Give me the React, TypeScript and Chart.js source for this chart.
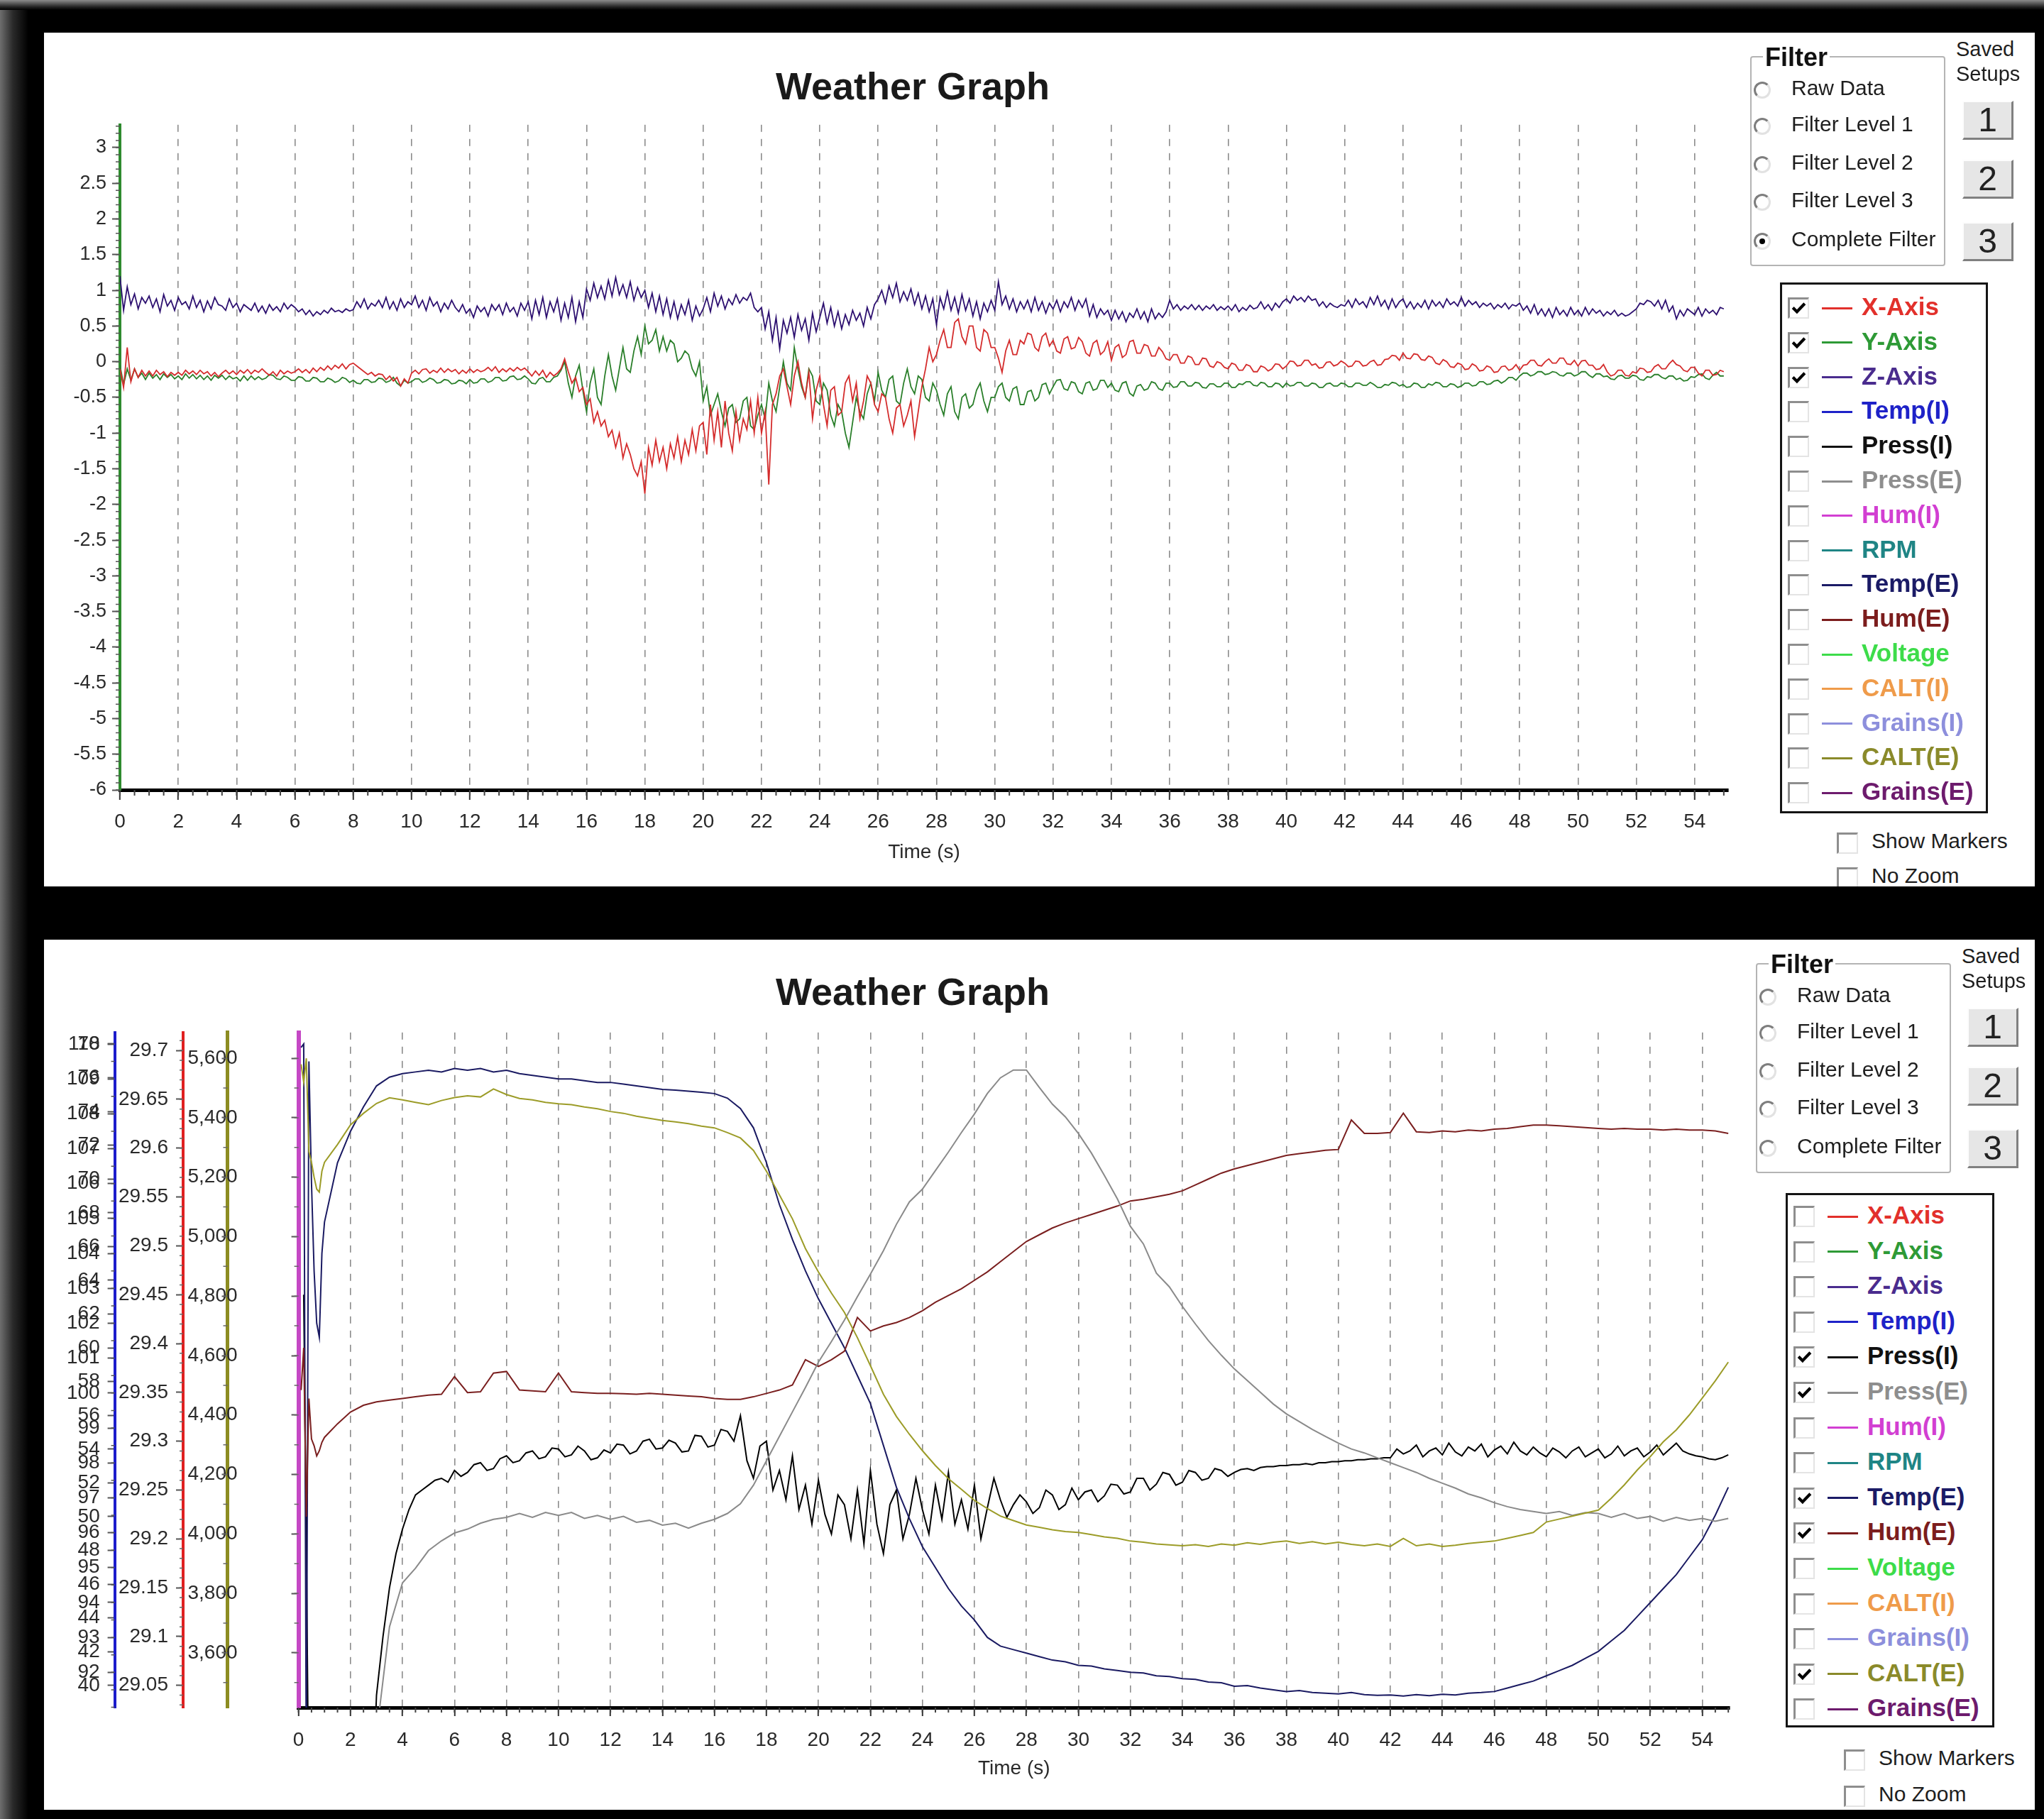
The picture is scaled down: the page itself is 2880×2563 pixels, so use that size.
import React, { useEffect, useRef } from 'react';
import { Chart, registerables } from 'chart.js';

Chart.register(...registerables);

const FONT = "'Liberation Sans', Arial, Helvetica, sans-serif";
Chart.defaults.font.family = FONT;

// ---------------- TOP CHART DATA (accelerometer, g) ----------------
// sample times: every 0.125 s from 0 to 55 s (one row below = one second)
const TOP_TIME: number[] = Array.from({ length: 441 }, (_, i) => i * 0.125);

const X_AXIS = [
  -0.1, -0.36, 0.2, -0.28, -0.1, -0.22, -0.12, -0.2,
  -0.13, -0.2, -0.12, -0.18, -0.14, -0.21, -0.15, -0.19,
  -0.15, -0.19, -0.12, -0.17, -0.13, -0.18, -0.12, -0.17,
  -0.14, -0.2, -0.15, -0.21, -0.16, -0.12, -0.17, -0.13,
  -0.18, -0.12, -0.16, -0.11, -0.17, -0.12, -0.15, -0.1,
  -0.15, -0.19, -0.14, -0.2, -0.12, -0.17, -0.13, -0.16,
  -0.14, -0.1, -0.15, -0.11, -0.16, -0.09, -0.14, -0.08,
  -0.12, -0.06, -0.11, -0.05, -0.09, -0.03, -0.1, -0.04,
  -0.02, -0.06, -0.1, -0.14, -0.18, -0.15, -0.2, -0.17,
  -0.18, -0.25, -0.2, -0.27, -0.22, -0.34, -0.24, -0.3,
  -0.16, -0.12, -0.17, -0.11, -0.1, -0.16, -0.12, -0.15,
  -0.09, -0.15, -0.1, -0.14, -0.11, -0.17, -0.12, -0.16,
  -0.1, -0.15, -0.11, -0.14, -0.12, -0.08, -0.13, -0.07,
  -0.15, -0.1, -0.14, -0.09, -0.13, -0.08, -0.12, -0.09,
  -0.14, -0.2, -0.13, -0.19, -0.12, -0.22, -0.15, -0.2,
  -0.16, -0.1, 0.04, -0.14, -0.3, -0.22, -0.42, -0.36,
  -0.6, -0.52, -0.85, -0.7, -0.9, -0.82, -1.05, -0.96,
  -1.2, -1.0, -1.35, -1.15, -1.3, -1.5, -1.6, -1.4,
  -1.85, -1.2, -1.45, -1.1, -1.4, -1.2, -1.5, -1.15,
  -1.35, -1.05, -1.4, -1.1, -1.3, -0.95, -1.25, -0.9,
  -0.85, -1.3, -0.6, -1.1, -0.7, -1.2, -0.55, -1.0,
  -1.25, -0.7, -1.1, -0.8, -0.95, -0.55, -1.0, -0.5,
  -1.0, -0.7, -1.72, -0.6, -0.45, -0.2, -0.1, -0.35,
  -0.6, -0.2, 0.0, -0.3, -0.5, -0.15, -0.8, -0.4,
  -0.2, -0.6, -0.9, -0.4, -0.35, -0.75, -0.7, -0.3,
  -0.2, -0.55, -0.3, -0.8, -0.55, -0.2, -0.3, -0.6,
  -0.7, -0.45, -0.5, -0.8, -1.0, -0.65, -0.6, -0.9,
  -0.75, -0.55, -1.05, -0.7, -0.35, -0.1, 0.2, 0.0,
  0.1, 0.3, 0.45, 0.2, 0.2, 0.55, 0.6, 0.35,
  0.25, 0.5, 0.5, 0.2, 0.15, 0.45, 0.4, 0.2,
  0.2, 0.05, -0.15, 0.15, 0.3, 0.1, 0.1, 0.3,
  0.25, 0.4, 0.38, 0.2, 0.15, 0.35, 0.4, 0.22,
  0.3, 0.15, 0.12, 0.32, 0.35, 0.18, 0.2, 0.34,
  0.28, 0.12, 0.08, 0.26, 0.3, 0.1, 0.15, 0.28,
  0.02, 0.2, 0.24, 0.06, 0.1, 0.28, 0.3, 0.12,
  0.12, 0.24, 0.22, 0.08, 0.08, 0.2, 0.14, 0.04,
  0.02, 0.1, 0.1, -0.02, -0.02, 0.08, 0.06, -0.04,
  -0.04, 0.05, 0.04, -0.06, -0.08, 0.0, -0.02, -0.08,
  -0.1, -0.02, -0.04, -0.12, -0.12, -0.04, -0.06, -0.14,
  -0.14, -0.06, -0.08, -0.13, -0.1, -0.03, -0.04, -0.1,
  -0.06, 0.01, 0.0, -0.06, -0.05, 0.02, 0.02, -0.05,
  -0.03, -0.09, -0.08, -0.01, 0.0, -0.06, -0.04, 0.01,
  -0.02, -0.07, -0.06, 0.01, 0.0, -0.06, -0.05, 0.0,
  0.02, -0.05, -0.04, 0.03, 0.04, 0.09, 0.08, 0.02,
  0.12, 0.05, 0.04, 0.11, 0.1, 0.03, 0.02, 0.08,
  0.06, -0.02, -0.04, 0.03, 0.0, -0.07, -0.08, -0.02,
  -0.04, -0.11, -0.1, -0.03, -0.06, -0.13, -0.12, -0.06,
  -0.08, -0.15, -0.14, -0.07, -0.06, -0.12, -0.1, -0.04,
  -0.12, -0.05, -0.04, 0.02, 0.02, -0.05, -0.06, 0.0,
  0.04, -0.02, -0.02, 0.05, 0.05, -0.03, -0.04, 0.02,
  -0.06, 0.01, 0.02, -0.05, -0.05, -0.11, -0.1, -0.04,
  -0.14, -0.2, -0.18, -0.12, -0.12, -0.19, -0.2, -0.14,
  -0.16, -0.09, -0.1, -0.15, -0.14, -0.07, -0.04, -0.1,
  -0.1, -0.03, 0.02, -0.04, -0.06, -0.12, -0.14, -0.08,
  -0.08, -0.16, -0.2, -0.12, -0.12, -0.19, -0.18, -0.12,
  -0.14,
];

const Y_AXIS = [
  -0.05, -0.32, -0.1, -0.26, -0.1, -0.22, -0.16, -0.25,
  -0.16, -0.23, -0.18, -0.25, -0.17, -0.22, -0.18, -0.24,
  -0.2, -0.25, -0.17, -0.23, -0.18, -0.24, -0.19, -0.25,
  -0.2, -0.26, -0.19, -0.23, -0.19, -0.25, -0.2, -0.24,
  -0.22, -0.27, -0.2, -0.26, -0.2, -0.25, -0.21, -0.25,
  -0.23, -0.18, -0.19, -0.24, -0.25, -0.2, -0.22, -0.26,
  -0.26, -0.21, -0.22, -0.27, -0.27, -0.22, -0.23, -0.28,
  -0.28, -0.23, -0.25, -0.29, -0.27, -0.22, -0.24, -0.29,
  -0.26, -0.3, -0.31, -0.25, -0.25, -0.29, -0.28, -0.23,
  -0.24, -0.29, -0.27, -0.22, -0.3, -0.34, -0.26, -0.3,
  -0.28, -0.24, -0.24, -0.29, -0.27, -0.23, -0.25, -0.3,
  -0.29, -0.25, -0.26, -0.31, -0.3, -0.26, -0.27, -0.31,
  -0.25, -0.3, -0.29, -0.24, -0.24, -0.29, -0.27, -0.22,
  -0.22, -0.27, -0.26, -0.21, -0.2, -0.25, -0.24, -0.2,
  -0.24, -0.3, -0.31, -0.24, -0.22, -0.28, -0.28, -0.22,
  -0.2, -0.12, 0.0, -0.3, -0.5, -0.2, -0.05, -0.4,
  -0.7, -0.3, -0.1, -0.5, -0.6, -0.2, 0.1, -0.2,
  -0.4, -0.1, 0.2, -0.1, -0.15, 0.15, 0.35, 0.1,
  0.5, 0.25, 0.3, 0.45, 0.15, 0.35, 0.15, 0.3,
  0.25, 0.0, 0.05, 0.15, 0.1, -0.1, -0.2, 0.0,
  -0.55, -0.35, -0.75, -0.6, -0.45, -0.7, -0.9, -0.65,
  -0.6, -0.85, -0.8, -0.55, -0.5, -0.9, -0.95, -0.75,
  -0.6, -0.8, -0.3, -0.55, -0.7, -0.35, 0.0, -0.3,
  -0.4, 0.2, -0.1, -0.35, -0.5, -0.1, -0.2, -0.55,
  -0.6, -0.3, -0.4, -0.75, -0.9, -0.6, -0.7, -1.0,
  -1.2, -0.85, -0.5, -0.7, -0.8, -0.45, -0.3, -0.55,
  -0.15, -0.4, -0.5, -0.25, -0.2, -0.55, -0.6, -0.3,
  -0.1, -0.35, -0.45, -0.2, -0.25, -0.5, -0.55, -0.3,
  -0.4, -0.6, -0.75, -0.45, -0.35, -0.7, -0.8, -0.5,
  -0.45, -0.65, -0.6, -0.4, -0.3, -0.55, -0.7, -0.5,
  -0.5, -0.35, -0.3, -0.5, -0.55, -0.38, -0.35, -0.6,
  -0.6, -0.42, -0.4, -0.55, -0.5, -0.32, -0.3, -0.45,
  -0.35, -0.26, -0.25, -0.38, -0.4, -0.28, -0.3, -0.42,
  -0.45, -0.3, -0.28, -0.4, -0.38, -0.26, -0.26, -0.36,
  -0.3, -0.4, -0.42, -0.3, -0.28, -0.44, -0.48, -0.34,
  -0.32, -0.4, -0.38, -0.28, -0.3, -0.38, -0.4, -0.3,
  -0.3, -0.36, -0.35, -0.28, -0.28, -0.34, -0.34, -0.29,
  -0.3, -0.36, -0.37, -0.31, -0.31, -0.35, -0.35, -0.3,
  -0.3, -0.36, -0.36, -0.31, -0.32, -0.28, -0.28, -0.33,
  -0.34, -0.29, -0.3, -0.35, -0.35, -0.3, -0.31, -0.36,
  -0.3, -0.34, -0.33, -0.29, -0.29, -0.34, -0.34, -0.3,
  -0.31, -0.36, -0.36, -0.31, -0.3, -0.34, -0.34, -0.3,
  -0.31, -0.35, -0.35, -0.3, -0.3, -0.33, -0.33, -0.29,
  -0.32, -0.36, -0.36, -0.32, -0.33, -0.29, -0.3, -0.34,
  -0.32, -0.36, -0.35, -0.3, -0.31, -0.36, -0.36, -0.31,
  -0.33, -0.29, -0.3, -0.35, -0.35, -0.31, -0.32, -0.36,
  -0.34, -0.3, -0.3, -0.34, -0.33, -0.28, -0.28, -0.32,
  -0.31, -0.27, -0.26, -0.3, -0.27, -0.22, -0.22, -0.26,
  -0.2, -0.16, -0.16, -0.2, -0.18, -0.14, -0.14, -0.18,
  -0.17, -0.14, -0.15, -0.19, -0.2, -0.16, -0.16, -0.2,
  -0.18, -0.14, -0.14, -0.19, -0.22, -0.17, -0.17, -0.21,
  -0.2, -0.24, -0.25, -0.2, -0.19, -0.23, -0.23, -0.19,
  -0.2, -0.25, -0.26, -0.21, -0.22, -0.18, -0.18, -0.22,
  -0.24, -0.2, -0.2, -0.25, -0.23, -0.27, -0.26, -0.21,
  -0.22, -0.18, -0.17, -0.23, -0.25, -0.19, -0.15, -0.2,
  -0.2,
];

const Z_AXIS = [
  1.2, 0.72, 1.05, 0.8, 0.95, 0.74, 0.9, 0.82,
  0.92, 0.76, 0.88, 0.7, 0.94, 0.78, 0.86, 0.72,
  0.9, 0.8, 0.84, 0.74, 0.92, 0.76, 0.86, 0.7,
  0.85, 0.74, 0.9, 0.8, 0.78, 0.72, 0.88, 0.76,
  0.82, 0.7, 0.8, 0.76, 0.72, 0.82, 0.7, 0.78,
  0.68, 0.8, 0.72, 0.77, 0.7, 0.82, 0.74, 0.8,
  0.76, 0.7, 0.74, 0.66, 0.72, 0.64, 0.7, 0.66,
  0.72, 0.68, 0.75, 0.7, 0.72, 0.69, 0.74, 0.71,
  0.73, 0.84, 0.76, 0.88, 0.74, 0.82, 0.78, 0.86,
  0.76, 0.9, 0.74, 0.84, 0.72, 0.88, 0.76, 0.84,
  0.8, 0.92, 0.76, 0.86, 0.72, 0.9, 0.78, 0.84,
  0.7, 0.82, 0.74, 0.86, 0.76, 0.7, 0.8, 0.68,
  0.74, 0.62, 0.78, 0.7, 0.76, 0.64, 0.8, 0.72,
  0.8, 0.66, 0.82, 0.7, 0.76, 0.64, 0.82, 0.72,
  0.84, 0.6, 0.86, 0.66, 0.9, 0.62, 0.84, 0.7,
  0.88, 0.58, 0.82, 0.62, 0.9, 0.56, 0.84, 0.62,
  1.02, 0.86, 1.1, 0.9, 1.06, 0.88, 1.14, 0.92,
  1.18, 0.94, 1.08, 0.9, 1.12, 0.86, 1.04, 0.9,
  1.0, 0.76, 0.96, 0.7, 0.92, 0.66, 0.88, 0.62,
  0.84, 0.6, 0.8, 0.66, 0.86, 0.58, 0.78, 0.64,
  0.74, 0.9, 0.7, 0.96, 0.78, 0.92, 0.74, 0.88,
  0.8, 0.94, 0.82, 0.9, 0.86, 0.96, 0.76, 0.7,
  0.76, 0.46, 0.7, 0.3, 0.62, 0.18, 0.58, 0.4,
  0.62, 0.34, 0.66, 0.44, 0.6, 0.3, 0.68, 0.42,
  0.62, 0.82, 0.54, 0.76, 0.5, 0.7, 0.46, 0.66,
  0.52, 0.72, 0.58, 0.68, 0.5, 0.76, 0.6, 0.8,
  0.88, 1.0, 0.82, 1.06, 0.9, 1.1, 0.84, 0.98,
  0.86, 1.02, 0.8, 0.96, 0.74, 0.92, 0.7, 0.88,
  0.52, 0.9, 0.74, 0.98, 0.72, 0.9, 0.68, 0.94,
  0.72, 0.88, 0.64, 0.84, 0.6, 0.82, 0.7, 0.86,
  0.72, 1.12, 0.8, 0.92, 0.74, 0.88, 0.7, 0.84,
  0.74, 0.86, 0.7, 0.9, 0.72, 0.84, 0.68, 0.82,
  0.74, 0.86, 0.7, 0.84, 0.76, 0.9, 0.72, 0.86,
  0.76, 0.88, 0.64, 0.8, 0.62, 0.74, 0.66, 0.72,
  0.58, 0.72, 0.6, 0.7, 0.56, 0.68, 0.62, 0.74,
  0.6, 0.7, 0.56, 0.74, 0.6, 0.68, 0.62, 0.7,
  0.86, 0.74, 0.8, 0.72, 0.78, 0.74, 0.8, 0.73,
  0.79, 0.72, 0.78, 0.74, 0.8, 0.72, 0.77, 0.73,
  0.78, 0.72, 0.8, 0.7, 0.76, 0.72, 0.79, 0.74,
  0.76, 0.84, 0.74, 0.8, 0.72, 0.82, 0.76, 0.84,
  0.88, 0.82, 0.92, 0.86, 0.9, 0.84, 0.92, 0.86,
  0.88, 0.78, 0.84, 0.76, 0.82, 0.78, 0.76, 0.8,
  0.78, 0.86, 0.76, 0.88, 0.8, 0.84, 0.76, 0.9,
  0.8, 0.92, 0.78, 0.86, 0.74, 0.88, 0.76, 0.84,
  0.88, 0.76, 0.84, 0.74, 0.82, 0.76, 0.86, 0.74,
  0.86, 0.78, 0.84, 0.76, 0.88, 0.8, 0.84, 0.78,
  0.9, 0.78, 0.86, 0.8, 0.84, 0.76, 0.82, 0.78,
  0.82, 0.74, 0.8, 0.76, 0.82, 0.74, 0.8, 0.78,
  0.82, 0.72, 0.78, 0.68, 0.8, 0.66, 0.74, 0.64,
  0.74, 0.62, 0.76, 0.66, 0.72, 0.64, 0.76, 0.66,
  0.72, 0.64, 0.76, 0.66, 0.74, 0.68, 0.72, 0.64,
  0.7, 0.66, 0.72, 0.64, 0.68, 0.64, 0.66, 0.7,
  0.74, 0.82, 0.8, 0.86, 0.84, 0.78, 0.86, 0.74,
  0.86, 0.7, 0.78, 0.6, 0.72, 0.64, 0.74, 0.7,
  0.66, 0.76, 0.64, 0.74, 0.68, 0.72, 0.66, 0.76,
  0.74,
];

// ---------------- BOTTOM CHART DATA (weather) ----------------
// sample times: 0..1 s every 0.1 s, then every 0.5 s to 55 s
const BOTTOM_TIME: number[] = [0, 0.1, 0.2, 0.3, 0.4, 0.5, 0.6, 0.7, 0.8, 0.9, 1.0].concat(
  Array.from({ length: 108 }, (_, i) => 1.5 + i * 0.5)
);
// Press(I) is logged more densely: start-up glitch, then every 0.25 s from 3 s
const PRESS_I_TIME: number[] = [0.2, 0.3, 0.4, 2.8].concat(Array.from({ length: 209 }, (_, i) => 3 + i * 0.25));

const TEMP_E = [
  null, 109.9, 110.0, 89, 109.5, 106, 103.5, 102, 101.6, 104, 104.9,
  106.6, 107.5, 108.2, 108.8, 109.05, 109.15, 109.2, 109.25, 109.2, 109.3,
  109.25, 109.3, 109.2, 109.25, 109.15, 109.1, 109.05, 109.0, 109.0, 108.95,
  108.9, 108.9, 108.85, 108.8, 108.75, 108.7, 108.68, 108.65, 108.62, 108.58,
  108.45, 108.15, 107.6, 106.6, 105.4, 104.4, 103.5, 102.7, 102.0, 101.3,
  100.5, 99.7, 98.5, 97.3, 96.4, 95.6, 95.0, 94.4, 93.9, 93.5,
  93.0, 92.75, 92.65, 92.55, 92.45, 92.35, 92.3, 92.2, 92.18, 92.1,
  92.05, 92.0, 91.98, 91.9, 91.88, 91.82, 91.8, 91.72, 91.7, 91.6,
  91.62, 91.55, 91.5, 91.45, 91.48, 91.42, 91.4, 91.38, 91.42, 91.36,
  91.34, 91.35, 91.32, 91.36, 91.33, 91.37, 91.35, 91.4, 91.42, 91.45,
  91.55, 91.65, 91.75, 91.9, 92.05, 92.2, 92.4, 92.6, 92.9, 93.2,
  93.6, 94.0, 94.4, 94.8, 95.3, 95.8, 96.5, 97.3,
];

const PRESS_I = [
  29.45, 29.2, 28.9, 28.9,
  29.04, 29.1, 29.15, 29.185,
  29.21, 29.23, 29.245, 29.25,
  29.255, 29.26, 29.262, 29.258,
  29.27, 29.264, 29.268, 29.276,
  29.278, 29.27, 29.272, 29.282,
  29.285, 29.278, 29.28, 29.288,
  29.29, 29.282, 29.284, 29.293,
  29.292, 29.284, 29.286, 29.295,
  29.29, 29.281, 29.283, 29.291,
  29.288, 29.297, 29.296, 29.287,
  29.29, 29.3, 29.302, 29.292,
  29.293, 29.301, 29.298, 29.289,
  29.29, 29.306, 29.305, 29.294,
  29.296, 29.312, 29.31, 29.3,
  29.326, 29.28, 29.262, 29.295,
  29.3, 29.25, 29.27, 29.24,
  29.285, 29.23, 29.255, 29.215,
  29.26, 29.225, 29.205, 29.245,
  29.235, 29.2, 29.25, 29.195,
  29.27, 29.215, 29.185, 29.235,
  29.25, 29.2, 29.225, 29.262,
  29.23, 29.205, 29.255, 29.22,
  29.268, 29.215, 29.24, 29.21,
  29.255, 29.2, 29.232, 29.262,
  29.24, 29.222, 29.235, 29.245,
  29.238, 29.226, 29.232, 29.25,
  29.245, 29.23, 29.235, 29.252,
  29.24, 29.248, 29.25, 29.238,
  29.244, 29.256, 29.255, 29.246,
  29.248, 29.262, 29.262, 29.25,
  29.256, 29.268, 29.266, 29.255,
  29.258, 29.27, 29.268, 29.26,
  29.262, 29.272, 29.27, 29.264,
  29.268, 29.271, 29.272, 29.27,
  29.273, 29.274, 29.274, 29.275,
  29.275, 29.276, 29.276, 29.277,
  29.276, 29.278, 29.278, 29.279,
  29.279, 29.28, 29.28, 29.281,
  29.281, 29.282, 29.282, 29.283,
  29.283, 29.292, 29.287, 29.29,
  29.296, 29.284, 29.29, 29.293,
  29.286, 29.298, 29.289, 29.285,
  29.294, 29.29, 29.297, 29.284,
  29.291, 29.295, 29.287, 29.299,
  29.29, 29.286, 29.294, 29.288,
  29.284, 29.293, 29.289, 29.283,
  29.29, 29.294, 29.284, 29.288,
  29.292, 29.283, 29.287, 29.295,
  29.285, 29.29, 29.293, 29.284,
  29.289, 29.296, 29.286, 29.292,
  29.298, 29.29, 29.287, 29.285,
  29.284, 29.282, 29.281, 29.283,
  29.286,
];

const PRESS_E = [
  null, null, null, null, 28.9, 28.9, 28.9, 28.9, 28.9, 28.9, 28.9,
  28.9, 28.9, 28.9, 29.0, 29.11, 29.155, 29.17, 29.188, 29.198, 29.206,
  29.21, 29.216, 29.22, 29.222, 29.226, 29.222, 29.227, 29.224, 29.227, 29.221,
  29.224, 29.22, 29.223, 29.217, 29.219, 29.214, 29.216, 29.211, 29.216, 29.22,
  29.226, 29.236, 29.255, 29.28, 29.305, 29.33, 29.355, 29.381, 29.402, 29.424,
  29.448, 29.471, 29.495, 29.522, 29.545, 29.558, 29.577, 29.596, 29.616, 29.635,
  29.656, 29.672, 29.68, 29.68, 29.662, 29.645, 29.632, 29.615, 29.595, 29.572,
  29.548, 29.52, 29.502, 29.472, 29.458, 29.438, 29.42, 29.403, 29.388, 29.374,
  29.362, 29.35, 29.338, 29.328, 29.32, 29.312, 29.305, 29.298, 29.292, 29.288,
  29.283, 29.278, 29.273, 29.268, 29.262, 29.257, 29.252, 29.246, 29.242, 29.237,
  29.233, 29.23, 29.228, 29.226, 29.228, 29.224, 29.227, 29.226, 29.222, 29.226,
  29.221, 29.223, 29.218, 29.222, 29.219, 29.221, 29.218, 29.221,
];

const HUM_E = [
  null, 57.5, 60, 50, 57, 54.6, 54.2, 53.6, 53.9, 54.4, 54.7,
  55.5, 56.2, 56.6, 56.8, 56.9, 57.0, 57.1, 57.2, 57.25, 58.3,
  57.35, 57.4, 58.5, 58.6, 57.5, 57.45, 57.4, 58.5, 57.4, 57.35,
  57.3, 57.3, 57.28, 57.25, 57.3, 57.25, 57.2, 57.15, 57.1, 57.0,
  56.95, 56.95, 57.1, 57.3, 57.5, 57.8, 59.3, 58.9, 59.3, 59.8,
  61.8, 61.0, 61.3, 61.5, 61.8, 62.2, 62.7, 63.1, 63.5, 64.0,
  64.5, 65.1, 65.7, 66.3, 66.7, 67.1, 67.4, 67.65, 67.9, 68.15,
  68.4, 68.7, 68.8, 68.95, 69.1, 69.3, 69.65, 70.0, 70.35, 70.6,
  70.8, 71.0, 71.2, 71.4, 71.5, 71.6, 71.7, 71.75, 73.5, 72.7,
  72.7, 72.75, 73.9, 72.8, 72.75, 72.85, 72.8, 72.9, 72.85, 72.95,
  73.0, 73.1, 73.2, 73.2, 73.15, 73.1, 73.05, 73.0, 72.95, 73.0,
  72.95, 72.95, 72.9, 72.95, 72.9, 72.9, 72.85, 72.7,
];

const CALT_E = [
  null, 5580, 5520, 5600, 5286, 5250, 5200, 5160, 5150, 5220, 5250,
  5310, 5376, 5415, 5448, 5467, 5460, 5452, 5444, 5458, 5468,
  5474, 5470, 5497, 5478, 5465, 5460, 5452, 5447, 5444, 5436,
  5430, 5421, 5415, 5405, 5398, 5391, 5386, 5380, 5372, 5366,
  5350, 5332, 5290, 5220, 5140, 5060, 4960, 4881, 4810, 4745,
  4660, 4566, 4470, 4395, 4335, 4280, 4230, 4186, 4150, 4113,
  4085, 4060, 4045, 4030, 4022, 4014, 4008, 4005, 3998, 3990,
  3985, 3976, 3972, 3966, 3963, 3960, 3964, 3958, 3966, 3962,
  3970, 3965, 3972, 3976, 3968, 3974, 3966, 3972, 3965, 3960,
  3966, 3958, 3985, 3960, 3966, 3958, 3962, 3968, 3972, 3976,
  3985, 3995, 4005, 4040, 4050, 4060, 4070, 4080, 4120, 4165,
  4215, 4260, 4310, 4350, 4400, 4457, 4515, 4578,
];

// ---------------- tick labels ----------------
const X_TICKS = [0, 2, 4, 6, 8, 10, 12, 14, 16, 18, 20, 22, 24, 26, 28, 30, 32, 34, 36, 38, 40, 42, 44, 46, 48, 50, 52, 54];
const TOP_Y_TICKS = [3, 2.5, 2, 1.5, 1, 0.5, 0, -0.5, -1, -1.5, -2, -2.5, -3, -3.5, -4, -4.5, -5, -5.5, -6];
const TEMP_TICKS = [92, 93, 94, 95, 96, 97, 98, 99, 100, 101, 102, 103, 104, 105, 106, 107, 108, 109, 110];
const HUM_TICKS = [40, 42, 44, 46, 48, 50, 52, 54, 56, 58, 60, 62, 64, 66, 68, 70, 72, 74, 76, 78];
const PRESS_TICKS = [29.05, 29.1, 29.15, 29.2, 29.25, 29.3, 29.35, 29.4, 29.45, 29.5, 29.55, 29.6, 29.65, 29.7];
const CALT_TICKS = [3600, 3800, 4000, 4200, 4400, 4600, 4800, 5000, 5200, 5400, 5600];
const CALT_LABELS = ['3,600', '3,800', '4,000', '4,200', '4,400', '4,600', '4,800', '5,000', '5,200', '5,400', '5,600'];

// ---------------- legend / panel ----------------
const SERIES_NAMES = ['X-Axis', 'Y-Axis', 'Z-Axis', 'Temp(I)', 'Press(I)', 'Press(E)', 'Hum(I)', 'RPM', 'Temp(E)', 'Hum(E)', 'Voltage', 'CALT(I)', 'Grains(I)', 'CALT(E)', 'Grains(E)'];
const SERIES_COLORS = ['#e2302b', '#2e9a36', '#4a2c8e', '#1e22c8', '#111111', '#8e8e8e', '#d23fd2', '#1f8585', '#1b1b66', '#7c1d1d', '#3ddc4a', '#ef9b4a', '#8d8fdc', '#8a8a2a', '#6d1b6d'];
const FILTER_OPTIONS = ['Raw Data', 'Filter Level 1', 'Filter Level 2', 'Filter Level 3', 'Complete Filter'];

const TOP_CHECKED = [true, true, true, false, false, false, false, false, false, false, false, false, false, false, false];
const BOTTOM_CHECKED = [false, false, false, false, true, true, false, false, true, true, false, false, false, true, false];

// ---------------- minor ticks plugin ----------------
const minorTicksPlugin = {
  id: 'minorTicks',
  afterDraw(chart: any, _args: any, opts: any) {
    const ctx = chart.ctx;
    for (const it of (opts && opts.items) || []) {
      const s = chart.scales[it.id];
      if (!s) continue;
      ctx.save();
      ctx.strokeStyle = it.color || '#555';
      ctx.lineWidth = it.width || 1.5;
      ctx.beginPath();
      const n0 = Math.ceil(s.min / it.step - 1e-6);
      const n1 = Math.floor(s.max / it.step + 1e-6);
      for (let n = n0; n <= n1; n++) {
        const p = s.getPixelForValue(n * it.step);
        if (s.isHorizontal()) {
          ctx.moveTo(p, s.top);
          ctx.lineTo(p, s.top + it.len);
        } else {
          ctx.moveTo(s.right - it.len, p);
          ctx.lineTo(s.right, p);
        }
      }
      ctx.stroke();
      ctx.restore();
    }
  },
};

function pts(times: number[], vals: (number | null)[]) {
  return times.map((t, i) => ({ x: t, y: vals[i] }));
}

function lineDs(label: string, times: number[], vals: (number | null)[], color: string, yAxisID: string, width = 2) {
  return {
    label,
    data: pts(times, vals),
    borderColor: color,
    backgroundColor: color,
    borderWidth: width,
    pointRadius: 0,
    tension: 0,
    spanGaps: false,
    yAxisID,
  };
}

function leftAxis(o: any) {
  return {
    type: 'linear',
    position: 'left',
    weight: o.weight,
    min: o.min,
    max: o.max,
    afterBuildTicks: (s: any) => {
      s.ticks = o.ticks.map((v: number) => ({ value: v }));
    },
    afterFit: (s: any) => {
      s.width = o.width;
    },
    ticks: {
      display: o.labels != null,
      mirror: !!o.mirror,
      autoSkip: false,
      padding: o.padding,
      color: '#2a2a2a',
      font: { family: FONT, size: o.fontSize || 28 },
      callback: (_v: any, i: number) => (o.labels ? o.labels[i] : ''),
    },
    grid: {
      display: true,
      drawOnChartArea: false,
      drawTicks: true,
      tickLength: o.tickLength,
      tickColor: '#555',
      tickWidth: 2,
    },
    border: { display: !!o.borderColor, color: o.borderColor || '#000', width: o.borderWidth || 1 },
  };
}

function xAxis(o: any) {
  return {
    type: 'linear',
    position: 'bottom',
    min: 0,
    max: o.max,
    afterBuildTicks: (s: any) => {
      s.ticks = X_TICKS.map((v) => ({ value: v }));
    },
    afterFit: (s: any) => {
      s.height = o.height;
    },
    ticks: {
      autoSkip: false,
      maxRotation: 0,
      padding: o.padding,
      color: '#2a2a2a',
      font: { family: FONT, size: 28 },
      callback: (_v: any, i: number) => String(X_TICKS[i]),
    },
    grid: {
      display: true,
      drawOnChartArea: true,
      color: '#8c8c8c',
      lineWidth: 1.6,
      drawTicks: true,
      tickLength: o.tickLength,
      tickColor: '#333',
      tickWidth: 2,
    },
    border: { display: true, color: '#000', width: 5, dash: [10, 10] },
    title: {
      display: true,
      text: 'Time (s)',
      color: '#2a2a2a',
      font: { family: FONT, size: 28 },
      padding: { top: o.titlePad, bottom: o.titlePad },
    },
  };
}

function rightSpacer(w: number) {
  return {
    type: 'linear',
    position: 'right',
    display: true,
    grid: { display: false, drawTicks: false },
    ticks: { display: false },
    border: { display: false },
    afterFit: (s: any) => {
      s.width = w;
    },
  };
}

function titleOpts(padTop: number, padBottom: number) {
  return {
    display: true,
    text: 'Weather Graph',
    color: '#1a1a1a',
    font: { family: FONT, size: 54, weight: 'bold' },
    padding: { top: padTop, bottom: padBottom },
  };
}

function buildTopConfig(): any {
  return {
    type: 'line',
    data: {
      datasets: [
        lineDs('X-Axis', TOP_TIME, X_AXIS, '#d42c2c', 'y', 1.8),
        lineDs('Y-Axis', TOP_TIME, Y_AXIS, '#2a7f2a', 'y', 1.8),
        lineDs('Z-Axis', TOP_TIME, Z_AXIS, '#2d1070', 'y', 1.8),
      ],
    },
    options: {
      animation: false,
      responsive: false,
      devicePixelRatio: 1,
      layout: { padding: 0 },
      plugins: {
        legend: { display: false },
        tooltip: { enabled: false },
        title: titleOpts(47, 18),
        minorTicks: {
          items: [
            { id: 'x', step: 0.5, len: 8, color: '#444', width: 2 },
            { id: 'y', step: 0.1, len: 6, color: '#555', width: 1.5 },
          ],
        },
      },
      scales: {
        x: xAxis({ max: 55.15, height: 136, padding: 14, tickLength: 14, titlePad: 31 }),
        y: leftAxis({
          weight: 1,
          min: -6,
          max: 3.32,
          ticks: TOP_Y_TICKS,
          labels: TOP_Y_TICKS.map(String),
          width: 107,
          padding: 8,
          tickLength: 11,
          borderColor: '#2e8b2e',
          borderWidth: 4,
          fontSize: 27,
        }),
        yR: rightSpacer(75),
      },
    },
    plugins: [minorTicksPlugin],
  };
}

function buildBottomConfig(): any {
  return {
    type: 'line',
    data: {
      datasets: [
        lineDs('CALT(E)', BOTTOM_TIME, CALT_E, '#9c9c28', 'yC'),
        lineDs('Press(E)', BOTTOM_TIME, PRESS_E, '#8a8a8a', 'yP'),
        lineDs('Hum(E)', BOTTOM_TIME, HUM_E, '#7a1f1f', 'yH'),
        lineDs('Temp(E)', BOTTOM_TIME, TEMP_E, '#1a1a62', 'yT'),
        lineDs('Press(I)', PRESS_I_TIME, PRESS_I, '#000000', 'yP'),
      ],
    },
    options: {
      animation: false,
      responsive: false,
      devicePixelRatio: 1,
      layout: { padding: 0 },
      plugins: {
        legend: { display: false },
        tooltip: { enabled: false },
        title: titleOpts(45, 21),
        minorTicks: {
          items: [
            { id: 'x', step: 0.5, len: 7, color: '#444', width: 2 },
            { id: 'yT', step: 0.5, len: 5, color: '#555', width: 1.5 },
            { id: 'yP', step: 0.01, len: 5, color: '#666', width: 1.5 },
            { id: 'yC', step: 100, len: 6, color: '#666', width: 1.5 },
            { id: 'yM', step: 100, len: 6, color: '#666', width: 1.5 },
          ],
        },
      },
      scales: {
        x: xAxis({ max: 55.05, height: 144, padding: 17, tickLength: 12, titlePad: 41 }),
        yT: leftAxis({
          weight: 5, min: 90.99, max: 110.33, ticks: TEMP_TICKS, labels: TEMP_TICKS.map(String),
          width: 99.6, padding: 11, tickLength: 10, borderColor: '#1c1ccc', borderWidth: 4,
        }),
        yH: leftAxis({
          weight: 4, min: 38.69, max: 78.68, ticks: HUM_TICKS, labels: HUM_TICKS.map(String),
          width: 0, mirror: true, padding: -52, tickLength: 10, borderColor: null,
        }),
        yP: leftAxis({
          weight: 3, min: 29.0273, max: 29.7184, ticks: PRESS_TICKS, labels: PRESS_TICKS.map(String),
          width: 96.4, padding: 11, tickLength: 10, borderColor: '#e02020', borderWidth: 4,
        }),
        yC: leftAxis({
          weight: 2, min: 3415.8, max: 5686.8, ticks: CALT_TICKS, labels: CALT_LABELS,
          width: 62.5, mirror: true, padding: -56, tickLength: 8, borderColor: '#8c8c22', borderWidth: 5,
        }),
        yM: leftAxis({
          weight: 1, min: 3415.8, max: 5686.8, ticks: CALT_TICKS, labels: null,
          width: 100.1, padding: 0, tickLength: 10, borderColor: '#c548c5', borderWidth: 6,
        }),
        yR: rightSpacer(73),
      },
    },
    plugins: [minorTicksPlugin],
  };
}

function ChartCanvas({ build, width, height }: { build: () => any; width: number; height: number }) {
  const ref = useRef<HTMLCanvasElement | null>(null);
  useEffect(() => {
    const chart = new Chart(ref.current as HTMLCanvasElement, build());
    return () => chart.destroy();
  }, []);
  return (
    <canvas
      ref={ref}
      width={width}
      height={height}
      style={{ position: 'absolute', left: 0, top: 0, width, height }}
    />
  );
}

// ---------------- side panel ----------------
type PanelSpec = {
  origin: [number, number];
  groupBox: { x: number; y: number; w: number; h: number };
  filterLabelX: number;
  radioCx: number;
  radioCy: number[];
  radioTextX: number;
  radioSel: number;
  savedX: number;
  savedCy: number[];
  buttonX: number;
  buttonTops: number[];
  legend: { x: number; y: number; w: number; h: number };
  rowCy0: number;
  rowGap: number;
  checkX: number;
  lineX: number;
  textX: number;
  checked: boolean[];
  optCheckX: number;
  optTextX: number;
  smCy: number;
  nzCy: number;
};

const TOP_PANEL: PanelSpec = {
  origin: [62, 46],
  groupBox: { x: 2466, y: 79, w: 275, h: 296 },
  filterLabelX: 2484,
  radioCx: 2483,
  radioCy: [127, 178, 232, 285, 340],
  radioTextX: 2524,
  radioSel: 4,
  savedX: 2756,
  savedCy: [71, 106],
  buttonX: 2765,
  buttonTops: [142, 225, 313],
  legend: { x: 2508, y: 398, w: 293, h: 748 },
  rowCy0: 434,
  rowGap: 48.8,
  checkX: 2519,
  lineX: 2567,
  textX: 2623,
  checked: TOP_CHECKED,
  optCheckX: 2588,
  optTextX: 2637,
  smCy: 1188,
  nzCy: 1237,
};

const BOTTOM_PANEL: PanelSpec = {
  origin: [62, 1324],
  groupBox: { x: 2474, y: 1357, w: 275, h: 296 },
  filterLabelX: 2492,
  radioCx: 2491,
  radioCy: [1405, 1456, 1510, 1563, 1618],
  radioTextX: 2532,
  radioSel: -1,
  savedX: 2764,
  savedCy: [1349, 1384],
  buttonX: 2772,
  buttonTops: [1420, 1503, 1591],
  legend: { x: 2516, y: 1681, w: 294, h: 753 },
  rowCy0: 1714,
  rowGap: 49.6,
  checkX: 2527,
  lineX: 2575,
  textX: 2631,
  checked: BOTTOM_CHECKED,
  optCheckX: 2598,
  optTextX: 2647,
  smCy: 2480,
  nzCy: 2531,
};

function Text({ x, cy, h, font, color, children, bg }: any) {
  return (
    <div
      style={{
        position: 'absolute',
        left: x,
        top: cy - h / 2,
        height: h,
        lineHeight: `${h}px`,
        font,
        color,
        whiteSpace: 'nowrap',
        background: bg,
        padding: bg ? '0 3px' : 0,
      }}
    >
      {children}
    </div>
  );
}

function CheckBox({ x, cy, size, checked }: { x: number; cy: number; size: number; checked: boolean }) {
  return (
    <div
      style={{
        position: 'absolute',
        left: x,
        top: cy - size / 2,
        width: size,
        height: size,
        boxSizing: 'border-box',
        borderTop: '3px solid #8e8e8e',
        borderLeft: '3px solid #8e8e8e',
        borderRight: '2px solid #e4e4e4',
        borderBottom: '2px solid #e4e4e4',
        background: '#fff',
      }}
    >
      {checked && (
        <svg width={size - 5} height={size - 5} viewBox="0 0 24 24" style={{ position: 'absolute', left: 0, top: 0 }}>
          <path d="M4 11 L9.5 16.5 L20 5.5" fill="none" stroke="#000" strokeWidth="4" />
        </svg>
      )}
    </div>
  );
}

function SidePanel({ s }: { s: PanelSpec }) {
  const [ox, oy] = s.origin;
  const X = (v: number) => v - ox;
  const Y = (v: number) => v - oy;
  const f30 = `30px ${FONT}`;
  const R = 12;
  return (
    <>
      <div
        style={{
          position: 'absolute',
          left: X(s.groupBox.x),
          top: Y(s.groupBox.y),
          width: s.groupBox.w,
          height: s.groupBox.h,
          border: '2px solid #b4b4b4',
          borderRadius: 4,
          boxSizing: 'border-box',
        }}
      />
      <Text x={X(s.filterLabelX)} cy={Y(s.groupBox.y) + 2} h={42} font={`bold 36px ${FONT}`} color="#111" bg="#fff">
        Filter
      </Text>
      {FILTER_OPTIONS.map((label, i) => (
        <React.Fragment key={label}>
          <div
            style={{
              position: 'absolute',
              left: X(s.radioCx) - R,
              top: Y(s.radioCy[i]) - R,
              width: 2 * R,
              height: 2 * R,
              borderRadius: '50%',
              boxSizing: 'border-box',
              border: '3px solid',
              borderColor: '#7e7e7e #e2e2e2 #e2e2e2 #7e7e7e',
              background: '#fff',
            }}
          >
            {s.radioSel === i && (
              <div style={{ position: 'absolute', left: 5, top: 5, width: 8, height: 8, borderRadius: '50%', background: '#000' }} />
            )}
          </div>
          <Text x={X(s.radioTextX)} cy={Y(s.radioCy[i])} h={40} font={f30} color="#1e1e1e">
            {label}
          </Text>
        </React.Fragment>
      ))}
      <Text x={X(s.savedX)} cy={Y(s.savedCy[0])} h={36} font={`29px ${FONT}`} color="#1e1e1e">
        Saved
      </Text>
      <Text x={X(s.savedX)} cy={Y(s.savedCy[1])} h={36} font={`29px ${FONT}`} color="#1e1e1e">
        Setups
      </Text>
      {s.buttonTops.map((t, i) => (
        <div
          key={i}
          style={{
            position: 'absolute',
            left: X(s.buttonX),
            top: Y(t),
            width: 72,
            height: 55,
            boxSizing: 'border-box',
            background: '#e6e6e6',
            borderTop: '2px solid #fdfdfd',
            borderLeft: '2px solid #fdfdfd',
            borderRight: '3px solid #808080',
            borderBottom: '3px solid #808080',
            font: `48px ${FONT}`,
            color: '#222',
            textAlign: 'center',
            lineHeight: '50px',
          }}
        >
          {i + 1}
        </div>
      ))}
      <div
        style={{
          position: 'absolute',
          left: X(s.legend.x),
          top: Y(s.legend.y),
          width: s.legend.w,
          height: s.legend.h,
          border: '3px solid #141414',
          boxSizing: 'border-box',
        }}
      />
      {SERIES_NAMES.map((name, i) => {
        const cy = Y(s.rowCy0 + i * s.rowGap);
        return (
          <React.Fragment key={name}>
            <CheckBox x={X(s.checkX)} cy={cy} size={30} checked={s.checked[i]} />
            <div
              style={{
                position: 'absolute',
                left: X(s.lineX),
                top: cy - 1.5,
                width: 43,
                height: 3,
                background: SERIES_COLORS[i],
              }}
            />
            <Text x={X(s.textX)} cy={cy} h={44} font={`bold 35px ${FONT}`} color={SERIES_COLORS[i]}>
              {name}
            </Text>
          </React.Fragment>
        );
      })}
      <CheckBox x={X(s.optCheckX)} cy={Y(s.smCy)} size={30} checked={false} />
      <Text x={X(s.optTextX)} cy={Y(s.smCy)} h={40} font={f30} color="#1e1e1e">
        Show Markers
      </Text>
      <CheckBox x={X(s.optCheckX)} cy={Y(s.nzCy)} size={30} checked={false} />
      <Text x={X(s.optTextX)} cy={Y(s.nzCy)} h={40} font={f30} color="#1e1e1e">
        No Zoom
      </Text>
    </>
  );
}

function WhitePanel({ x, y, w, h, children }: any) {
  return (
    <div style={{ position: 'absolute', left: x, top: y, width: w, height: h, background: '#fff', overflow: 'hidden' }}>
      {children}
    </div>
  );
}

export default function App() {
  return (
    <div style={{ position: 'absolute', left: 0, top: 0, width: 2880, height: 2563, background: '#000', overflow: 'hidden' }}>
      <div
        style={{
          position: 'absolute',
          left: 0,
          top: 0,
          width: 40,
          height: 2563,
          background: 'linear-gradient(to right, #6e6e6e 0%, #2a2a2a 45%, #000 100%)',
        }}
      />
      <div
        style={{
          position: 'absolute',
          left: 0,
          top: 0,
          width: 2880,
          height: 14,
          background: 'linear-gradient(to bottom, #8c8c8c 0%, #222 70%, #000 100%)',
        }}
      />
      <WhitePanel x={62} y={46} w={2805} h={1203}>
        <ChartCanvas build={buildTopConfig} width={2448} height={1203} />
        <SidePanel s={TOP_PANEL} />
      </WhitePanel>
      <WhitePanel x={62} y={1324} w={2805} h={1226}>
        <ChartCanvas build={buildBottomConfig} width={2448} height={1226} />
        <SidePanel s={BOTTOM_PANEL} />
      </WhitePanel>
    </div>
  );
}
